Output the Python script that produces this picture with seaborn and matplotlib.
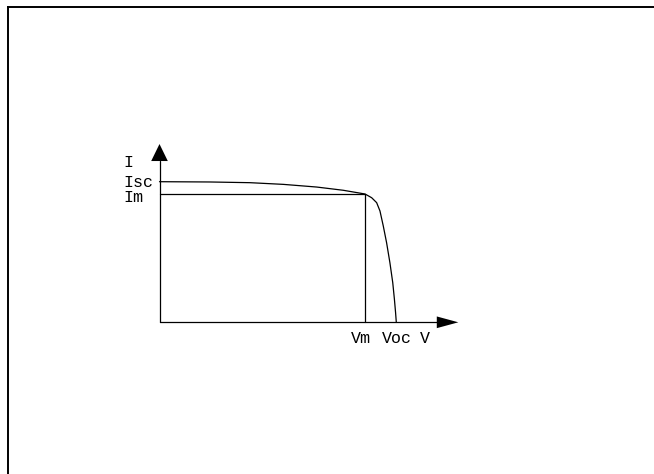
import matplotlib.pyplot as plt
import seaborn as sns

# I-V curve of a solar cell (normalised: Voc = 1, Isc = 1)
v_curve = [0.0, 0.213, 0.382, 0.523, 0.664, 0.776, 0.868, 0.896, 0.917, 0.931,
           0.945, 0.959, 0.973, 0.985, 0.992, 0.997, 1.0]
i_curve = [1.0, 0.998, 0.993, 0.981, 0.962, 0.939, 0.9125, 0.886, 0.851, 0.792,
           0.685, 0.566, 0.424, 0.282, 0.164, 0.068, 0.0]

v_m = 0.868
i_m = 0.9125
i_sc = 1.0
v_oc = 1.0

# axis extents (arrow base, arrow tip)
v_axis = (1.171, 1.262)
i_axis = (1.147, 1.268)

FONT = "Liberation Mono"
FS = 12

sns.set_style("white")
plt.rcParams["font.family"] = [FONT, "DejaVu Sans"]

fig = plt.figure(figsize=(6.54, 4.74), dpi=100)

# outer frame (only top and left edges visible)
frame = fig.add_axes([7.5 / 654, 0, 1, (474 - 6.5) / 474])
frame.set_xticks([])
frame.set_yticks([])
for side in ["right", "bottom"]:
    frame.spines[side].set_visible(False)
for side in ["top", "left"]:
    frame.spines[side].set_color("black")
    frame.spines[side].set_linewidth(1.4)
frame.patch.set_alpha(0)

# plot axes: origin at pixel (159.5, 322.3)
sx, sy = 236.8, 140.6
ox, oy = 159.5, 322.3
ax = fig.add_axes([0, 0, 1, 1])
ax.set_xlim(-ox / sx, (654 - ox) / sx)
ax.set_ylim((oy - 474) / sy, oy / sy)
ax.axis("off")
ax.patch.set_alpha(0)

lw = 0.9
sns.lineplot(x=v_curve, y=i_curve, color="black", linewidth=lw, ax=ax, sort=False)

# Vm / Im rectangle
ax.plot([0, v_m], [i_m, i_m], color="black", lw=lw)
ax.plot([v_m, v_m], [0, i_m], color="black", lw=lw)

# axes with arrows
ax.plot([0, v_axis[0]], [0, 0], color="black", lw=lw)
ax.plot([0, 0], [0, i_axis[0]], color="black", lw=lw)
hw_v = 5.85 / sy
ax.fill([v_axis[0], v_axis[1], v_axis[0]], [hw_v, 0, -hw_v], color="black", lw=0)
hw_i = 8.3 / sx
ax.fill([-hw_i, 0, hw_i], [i_axis[0], i_axis[1], i_axis[0]], color="black", lw=0)

# labels
def label(text, xy, dx, dy, ha):
    ax.annotate(text, xy=xy, xytext=(dx, dy), textcoords="offset pixels",
                ha=ha, va="baseline", fontsize=FS, color="black")

label("I", (0, i_axis[0]), -36.5, -5.5, "left")
label("Isc", (0, i_sc), -36.5, -5.0, "left")
label("Im", (0, i_m), -36.5, -7.7, "left")
label("Vm", (v_m, 0), -4.5, -20.4, "center")
label("Voc", (v_oc, 0), 0.4, -20.4, "center")
label("V", (v_axis[1], 0), -33.3, -20.4, "center")

fig.savefig("out.png", dpi=100)
